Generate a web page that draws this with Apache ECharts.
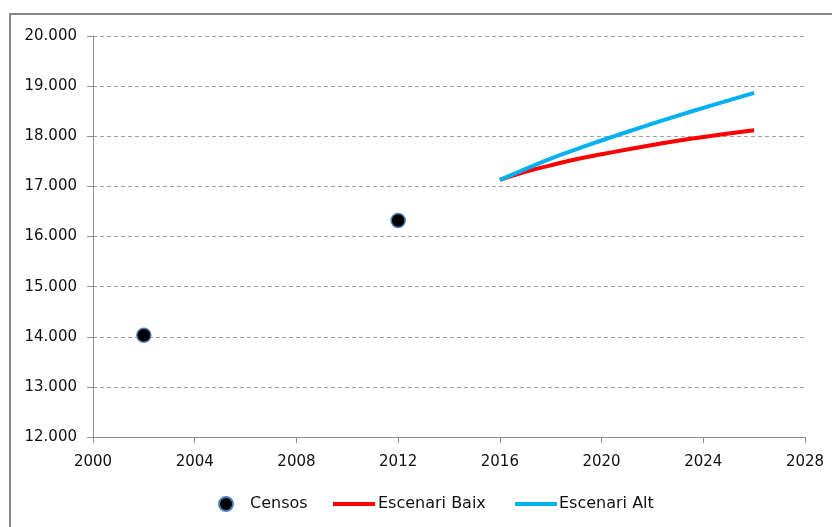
<!DOCTYPE html>
<html>
<head>
<meta charset="utf-8">
<script src="https://cdn.jsdelivr.net/npm/echarts@6/dist/echarts.min.js"></script>
<style>
  html, body { margin: 0; padding: 0; background: #ffffff; }
  #chart { width: 832px; height: 527px; }
</style>
</head>
<body>
<div id="chart"></div>
<script>
// Census counts
const censusYears = [2002, 2012];
const censusValues = [14030, 16320];

// Projection years and the two scenarios
const projYears = [2016, 2017, 2018, 2019, 2020, 2021, 2022, 2023, 2024, 2025, 2026];
const lowScenario = [17130, 17290, 17420, 17540, 17640, 17735, 17825, 17910, 17985, 18055, 18120];
const highScenario = [17130, 17345, 17555, 17740, 17915, 18085, 18250, 18410, 18565, 18715, 18865];

const seriesNames = ['Censos', 'Escenari Baix', 'Escenari Alt'];

const pairs = (xs, ys) => xs.map((x, i) => [x, ys[i]]);
const fmtThousands = v => {
  const s = Math.round(v).toString();
  return s.replace(/\B(?=(\d{3})+(?!\d))/g, '.');
};

const FONT = 'DejaVu Sans';
const TEXT = '#111111';
const AXIS = '#8c8c8c';

const chart = echarts.init(document.getElementById('chart'), null, { renderer: 'canvas' });

chart.setOption({
  animation: false,
  backgroundColor: '#ffffff',
  textStyle: { fontFamily: FONT },
  graphic: [{
    type: 'rect',
    shape: { x: 10, y: 14, width: 840, height: 540 },
    style: { fill: 'none', stroke: '#878787', lineWidth: 2 },
    silent: true
  }],
  grid: { left: 93, right: 27, top: 36, bottom: 90 },
  xAxis: {
    type: 'value',
    min: 2000, max: 2028, interval: 4,
    axisLine: { show: true, lineStyle: { color: AXIS, width: 1 } },
    axisTick: { show: true, length: 6, lineStyle: { color: AXIS } },
    axisLabel: { color: TEXT, fontSize: 15, fontFamily: FONT, margin: 18, formatter: v => String(v) },
    splitLine: { show: false }
  },
  yAxis: {
    type: 'value',
    min: 12000, max: 20000, interval: 1000,
    axisLine: { show: true, lineStyle: { color: AXIS, width: 1 } },
    axisTick: { show: true, length: 6, lineStyle: { color: AXIS } },
    axisLabel: { color: TEXT, fontSize: 15, fontFamily: FONT, margin: 16, formatter: fmtThousands },
    splitLine: { show: true, lineStyle: { color: '#a0a0a0', type: [4, 3], width: 1 } }
  },
  legend: [
    {
      data: [{ name: seriesNames[0], icon: 'circle' }],
      left: 218, top: 496, padding: 0,
      itemWidth: 14, itemHeight: 14,
      textStyle: { color: TEXT, fontSize: 16, fontFamily: FONT, padding: [0, 0, 0, 12] }
    },
    {
      data: [{ name: seriesNames[1], icon: 'rect' }],
      left: 333, top: 496, padding: 0,
      itemWidth: 42, itemHeight: 4,
      textStyle: { color: TEXT, fontSize: 16, fontFamily: FONT, padding: [0, 0, 0, -2] }
    },
    {
      data: [{ name: seriesNames[2], icon: 'rect' }],
      left: 515, top: 496, padding: 0,
      itemWidth: 42, itemHeight: 4,
      textStyle: { color: TEXT, fontSize: 16, fontFamily: FONT, padding: [0, 0, 0, -3] }
    }
  ],
  series: [
    {
      name: seriesNames[0],
      type: 'scatter',
      data: pairs(censusYears, censusValues),
      symbol: 'circle',
      symbolSize: 14,
      itemStyle: { color: '#000000', opacity: 1, borderColor: '#4f81bd', borderWidth: 1.5 },
      z: 5
    },
    {
      name: seriesNames[1],
      type: 'line',
      data: pairs(projYears, lowScenario),
      smooth: true,
      showSymbol: false,
      lineStyle: { color: '#ff0000', width: 4 },
      itemStyle: { color: '#ff0000' },
      z: 3
    },
    {
      name: seriesNames[2],
      type: 'line',
      data: pairs(projYears, highScenario),
      smooth: true,
      showSymbol: false,
      lineStyle: { color: '#00b0f0', width: 4 },
      itemStyle: { color: '#00b0f0' },
      z: 4
    }
  ]
});
</script>
</body>
</html>
